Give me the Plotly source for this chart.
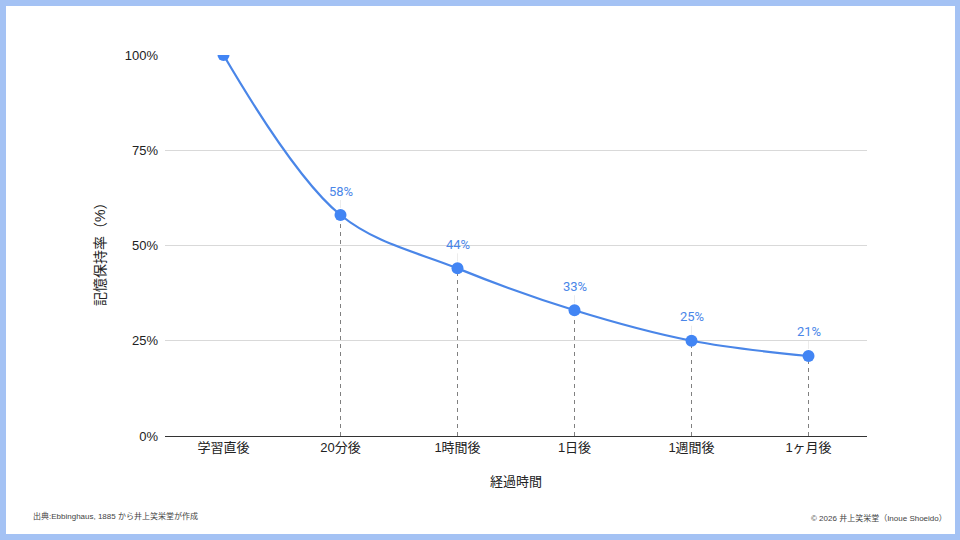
import plotly.graph_objects as go

categories = ["学習直後", "20分後", "1時間後", "1日後", "1週間後", "1ヶ月後"]
retention = [100, 58, 44, 33, 25, 21]
label_texts = ["", "58%", "44%", "33%", "25%", "21%"]
y_ticks = [0, 25, 50, 75, 100]
y_tick_labels = ["0%", "25%", "50%", "75%", "100%"]

W, H = 960, 540
ML, MR, MT, MB = 165, 93, 55, 104
PW, PH = W - ML - MR, H - MT - MB

def px(x):
    return (x - ML) / PW

def py(y):
    return (H - MB - y) / PH

LINE = "#4a86e8"
MARK = "#4285f4"
FONT = "Liberation Sans, Noto Sans CJK JP, sans-serif"

fig = go.Figure()

# dashed drop lines
for c, v in zip(categories[1:], retention[1:]):
    fig.add_trace(go.Scatter(x=[c, c], y=[0, v], mode="lines",
                             line=dict(color="#808080", width=1, dash="4px,4px"),
                             hoverinfo="skip", showlegend=False))

fig.add_trace(go.Scatter(x=categories, y=retention, mode="lines+markers",
                         line=dict(color=LINE, width=2.2, shape="spline", smoothing=1.0),
                         marker=dict(color=MARK, size=12),
                         showlegend=False))

annotations = []
for c, v, t in zip(categories, retention, label_texts):
    if not t:
        continue
    annotations.append(dict(x=c, y=v, xref="x", yref="y", text=t, showarrow=True,
                            arrowhead=0, arrowwidth=1, arrowcolor="#ececec",
                            ax=0, ay=-24, standoff=7, yanchor="middle",
                            font=dict(family="Roboto, Noto Sans CJK JP", size=13, color=LINE)))

annotations.append(dict(x=px(100), y=py(251), xref="paper", yref="paper",
                        xanchor="center", yanchor="middle",
                        text="記憶保持率（%）", textangle=-90, showarrow=False,
                        font=dict(family=FONT, size=14, color="#222222")))
annotations.append(dict(x=px(516), y=py(481), xref="paper", yref="paper",
                        xanchor="center", yanchor="middle",
                        text="経過時間", showarrow=False,
                        font=dict(family=FONT, size=13, color="#222222")))
annotations.append(dict(x=px(31), y=py(516), xref="paper", yref="paper",
                        xanchor="left", yanchor="middle",
                        text="出典:Ebbinghaus, 1885 から井上笑栄堂が作成",
                        showarrow=False,
                        font=dict(family=FONT, size=8, color="#444444")))
annotations.append(dict(x=px(949), y=py(518), xref="paper", yref="paper",
                        xanchor="right", yanchor="middle",
                        text="© 2026 井上笑栄堂（Inoue Shoeido）",
                        showarrow=False,
                        font=dict(family=FONT, size=8, color="#444444")))

shapes = [dict(type="rect", xref="paper", yref="paper", layer="below",
               x0=px(6), x1=px(955), y0=py(534), y1=py(6),
               fillcolor="white", line=dict(width=0))]

fig.update_layout(
    width=W, height=H,
    margin=dict(l=ML, r=MR, t=MT, b=MB),
    paper_bgcolor="#a4c2f4",
    plot_bgcolor="rgba(0,0,0,0)",
    shapes=shapes,
    annotations=annotations,
    font=dict(family=FONT, size=12, color="#222222"),
    xaxis=dict(type="category", categoryorder="array", categoryarray=categories,
               range=[-0.5, len(categories) - 0.5],
               showgrid=False, showline=False, zeroline=False, ticks="",
               ticklabelstandoff=2,
               tickfont=dict(family=FONT, size=13, color="#222222"), fixedrange=True),
    yaxis=dict(range=[0, 100], tickvals=y_ticks, ticktext=y_tick_labels,
               showgrid=True, gridcolor="#d9d9d9", gridwidth=1,
               zeroline=True, zerolinecolor="#333333", zerolinewidth=1.2,
               showline=False, ticks="", ticklabelstandoff=6,
               tickfont=dict(family=FONT, size=13, color="#222222"), fixedrange=True),
)

fig.write_html("out.html",
               config={"displayModeBar": False},
               post_script="document.body.style.margin='0';document.body.style.padding='0';"
                           "document.body.style.overflow='hidden';"
                           "document.body.style.background='#a4c2f4';")
